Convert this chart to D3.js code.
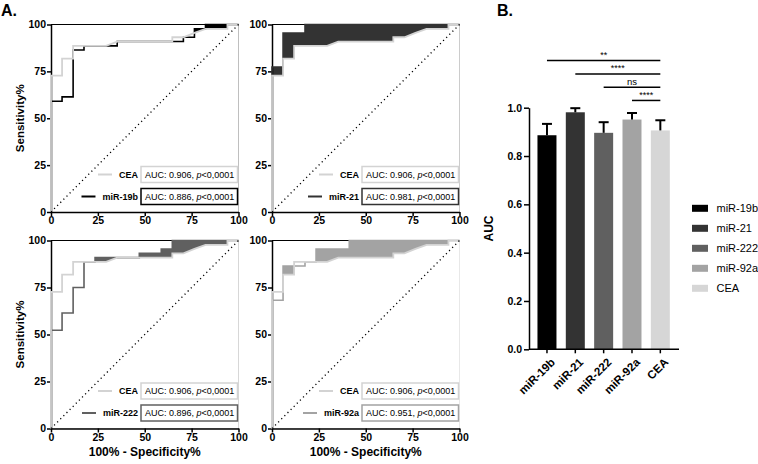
<!DOCTYPE html>
<html>
<head>
<meta charset="utf-8">
<script src="https://cdn.jsdelivr.net/npm/d3@7"></script>
<style>
  html, body { margin: 0; padding: 0; background: #fff; }
  svg { display: block; font-family: "Liberation Sans", Arial, sans-serif; }
</style>
</head>
<body>
<svg id="chart" width="758" height="464"></svg>
<script>
// ---------------- DATA ----------------
// ROC curves: [100% - Specificity%, Sensitivity%]
const rocCEA = [[0,0],[0,72.7],[5.9,72.7],[5.9,81.8],[11.8,81.8],[11.8,88.6],[29.4,88.6],[35.3,90.9],[64.7,90.9],[64.7,93.2],[70.6,93.2],[76.5,95.5],[82.4,97.7],[94.1,97.7],[94.1,100],[100,100]];
const rocMiR19b = [[0,0],[0,59.1],[5.9,59.1],[5.9,61.4],[11.8,61.4],[11.8,86.4],[17.6,86.4],[17.6,88.6],[35.3,88.6],[35.3,90.9],[70.6,90.9],[70.6,93.2],[76.5,93.2],[76.5,97.7],[82.4,97.7],[82.4,100],[100,100]];
const rocMiR21 = [[0,0],[0,77.3],[5.9,77.3],[5.9,95.5],[17.6,95.5],[17.6,100],[100,100]];
const rocMiR222 = [[0,0],[0,52.3],[5.9,52.3],[5.9,61.4],[11.8,61.4],[11.8,75],[17.6,75],[17.6,88.6],[23.5,88.6],[23.5,90.9],[47.1,90.9],[47.1,93.2],[58.8,93.2],[58.8,95.5],[64.7,95.5],[64.7,100],[100,100]];
const rocMiR92a = [[0,0],[0,68.2],[5.9,68.2],[5.9,86.4],[17.6,86.4],[17.6,88.6],[23.5,88.6],[23.5,95.5],[41.2,95.5],[41.2,100],[100,100]];
const rocNames = ["miR-19b", "miR-21", "miR-222", "miR-92a"];
const rocCurves = [rocMiR19b, rocMiR21, rocMiR222, rocMiR92a];
const rocAUC = ["0.886", "0.981", "0.896", "0.951"];
const ceaAUC = "0.906";
const rocTicks = [0, 25, 50, 75, 100];

const barCategories = ["miR-19b", "miR-21", "miR-222", "miR-92a", "CEA"];
const barValues = [0.886, 0.981, 0.896, 0.951, 0.906];
const barErrUpper = [0.933, 0.998, 0.940, 0.978, 0.948];
const barTicks = [0, 0.2, 0.4, 0.6, 0.8, 1.0];
const sigFrom = [0, 1, 2, 3];
const sigTo = [4, 4, 4, 4];
const sigLabels = ["**", "****", "ns", "****"];
const sigLevels = [1.195, 1.140, 1.085, 1.030];

// ---------------- STYLE ----------------
const seriesColors = ["#000000", "#333333", "#606060", "#a3a3a3"];
const ceaColor = "#d3d3d3";
const barColors = ["#000000", "#333333", "#606060", "#a3a3a3", "#d6d6d6"];

const svg = d3.select("#chart");

// panel labels
svg.append("text").attr("x", 1).attr("y", 16).attr("font-size", 16).attr("font-weight", "bold").text("A.");
svg.append("text").attr("x", 497).attr("y", 16).attr("font-size", 16).attr("font-weight", "bold").text("B.");

// ---------------- ROC PANELS ----------------
const panels = [
  {x: 51,    y: 24.5,  w: 187.5, h: 187.5, yLabel: true,  xLabel: false},
  {x: 272,   y: 24.5,  w: 187.5, h: 187.5, yLabel: false, xLabel: false},
  {x: 51,    y: 240.5, w: 187.5, h: 188,   yLabel: true,  xLabel: true},
  {x: 272,   y: 240.5, w: 187.5, h: 188,   yLabel: false, xLabel: true}
];

panels.forEach((p, i) => {
  const g = svg.append("g");
  const x = d3.scaleLinear().domain([0, 100]).range([p.x, p.x + p.w]);
  const y = d3.scaleLinear().domain([0, 100]).range([p.y + p.h, p.y]);
  const curve = rocCurves[i];
  const col = seriesColors[i];

  const area = d3.area().x(d => x(d[0])).y0(y(0)).y1(d => y(d[1]));
  const line = d3.line().x(d => x(d[0])).y(d => y(d[1]));

  // fill under miR curve, then white under CEA curve
  g.append("path").datum(curve).attr("d", area).attr("fill", col);
  g.append("path").datum(rocCEA).attr("d", area).attr("fill", "#fff");

  // top frame line
  g.append("line").attr("x1", x(0)).attr("x2", x(100)).attr("y1", y(100)).attr("y2", y(100))
    .attr("stroke", "#000").attr("stroke-width", 1.2);

  // axes
  const yAxis = d3.axisLeft(y).tickValues(rocTicks).tickSize(4).tickSizeOuter(0);
  const xAxis = d3.axisBottom(x).tickValues(rocTicks).tickSize(4).tickSizeOuter(0);
  const ya = g.append("g").attr("transform", `translate(${x(0)},0)`).call(yAxis);
  const xa = g.append("g").attr("transform", `translate(0,${y(0)})`).call(xAxis);
  [ya, xa].forEach(a => {
    a.select(".domain").attr("stroke", "#000").attr("stroke-width", 1.5);
    a.selectAll(".tick line").attr("stroke", "#000").attr("stroke-width", 1.5);
    a.selectAll(".tick text").attr("font-size", 10.5).attr("font-weight", "bold")
      .attr("font-family", "'Liberation Sans', Arial, sans-serif").attr("fill", "#000");
  });
  ya.selectAll(".tick text").attr("x", -5);
  xa.selectAll(".tick text").attr("y", 5);

  // curves
  g.append("path").datum(curve).attr("d", line).attr("fill", "none")
    .attr("stroke", col).attr("stroke-width", 1.6);
  g.append("path").datum(rocCEA).attr("d", line).attr("fill", "none")
    .attr("stroke", ceaColor).attr("stroke-width", 1.8);

  // diagonal reference
  g.append("line").attr("x1", x(0)).attr("y1", y(0)).attr("x2", x(100)).attr("y2", y(100))
    .attr("stroke", "#000").attr("stroke-width", 1.3).attr("stroke-dasharray", "1.2,3.2");

  // legend boxes
  const boxW = 96.5, boxH = 16;
  const bx = x(100) - boxW - 1;
  const rows = [
    {name: "CEA", auc: ceaAUC, color: ceaColor, by: y(0) - 45.5},
    {name: rocNames[i], auc: rocAUC[i], color: col, by: y(0) - 23.5}
  ];
  rows.forEach(r => {
    g.append("rect").attr("x", bx).attr("y", r.by).attr("width", boxW).attr("height", boxH)
      .attr("fill", "#fff").attr("stroke", r.color).attr("stroke-width", 1.5);
    const t = g.append("text").attr("x", bx + 4).attr("y", r.by + boxH / 2 + 3.3)
      .attr("font-size", 9).attr("fill", "#000");
    t.append("tspan").text(`AUC: ${r.auc}, `);
    t.append("tspan").attr("font-style", "italic").text("p");
    t.append("tspan").text("<0,0001");
    const lab = g.append("text").attr("x", bx - 3).attr("y", r.by + boxH / 2 + 3.3)
      .attr("text-anchor", "end").attr("font-size", 9).attr("font-weight", "bold").text(r.name);
    const lw = lab.node().getComputedTextLength();
    const lx2 = bx - 3 - lw - 7;
    g.append("line").attr("x1", lx2 - 14).attr("x2", lx2).attr("y1", r.by + boxH / 2).attr("y2", r.by + boxH / 2)
      .attr("stroke", r.color).attr("stroke-width", 2);
  });

  if (p.yLabel) {
    svg.append("text").attr("transform", `translate(${24},${p.y + p.h / 2}) rotate(-90)`)
      .attr("text-anchor", "middle").attr("font-size", 11.5).attr("font-weight", "bold").text("Sensitivity%");
  }
  if (p.xLabel) {
    svg.append("text").attr("x", p.x + p.w / 2).attr("y", 456)
      .attr("text-anchor", "middle").attr("font-size", 12).attr("font-weight", "bold").text("100% - Specificity%");
  }
});

// ---------------- BAR CHART ----------------
const bg = svg.append("g");
const bx = d3.scalePoint().domain(barCategories).range([532.8, 674.5]).padding(0.5);
const by = d3.scaleLinear().domain([0, 1]).range([349.3, 107.7]);
const barW = 19;

bg.selectAll("rect.bar").data(barCategories).join("rect").attr("class", "bar")
  .attr("x", d => bx(d) - barW / 2).attr("width", barW)
  .attr("y", (d, i) => by(barValues[i])).attr("height", (d, i) => by(0) - by(barValues[i]))
  .attr("fill", (d, i) => barColors[i]);

// error bars (upper only)
barCategories.forEach((c, i) => {
  bg.append("line").attr("x1", bx(c)).attr("x2", bx(c)).attr("y1", by(barValues[i])).attr("y2", by(barErrUpper[i]))
    .attr("stroke", "#000").attr("stroke-width", 2);
  bg.append("line").attr("x1", bx(c) - 5).attr("x2", bx(c) + 5).attr("y1", by(barErrUpper[i])).attr("y2", by(barErrUpper[i]))
    .attr("stroke", "#000").attr("stroke-width", 2);
});

// axes
const byAxis = d3.axisLeft(by).tickValues(barTicks).tickFormat(d3.format(".1f")).tickSize(5).tickSizeOuter(0);
const bya = bg.append("g").attr("transform", "translate(529,0)").call(byAxis);
bya.select(".domain").attr("stroke", "#000").attr("stroke-width", 1.5);
bya.selectAll(".tick line").attr("stroke", "#000").attr("stroke-width", 1.5);
bya.selectAll(".tick text").attr("font-size", 10.5).attr("font-weight", "bold")
  .attr("font-family", "'Liberation Sans', Arial, sans-serif").attr("fill", "#000").attr("x", -7);

bg.append("line").attr("x1", 529).attr("x2", 679).attr("y1", by(0)).attr("y2", by(0))
  .attr("stroke", "#000").attr("stroke-width", 1.5);
barCategories.forEach(c => {
  bg.append("line").attr("x1", bx(c)).attr("x2", bx(c)).attr("y1", by(0)).attr("y2", by(0) + 4)
    .attr("stroke", "#000").attr("stroke-width", 1.5);
  bg.append("text").attr("transform", `translate(${bx(c) + 3},${by(0) + 8}) rotate(-45)`)
    .attr("text-anchor", "end").attr("dy", "0.7em").attr("font-size", 11.5).attr("font-weight", "bold").text(c);
});

bg.append("text").attr("transform", `translate(493,${by(0.5)}) rotate(-90)`)
  .attr("text-anchor", "middle").attr("font-size", 12).attr("font-weight", "bold").text("AUC");

// significance brackets
sigLabels.forEach((s, i) => {
  const x1 = bx(barCategories[sigFrom[i]]), x2 = bx(barCategories[sigTo[i]]);
  const yy = by(sigLevels[i]);
  bg.append("line").attr("x1", x1).attr("x2", x2).attr("y1", yy).attr("y2", yy)
    .attr("stroke", "#000").attr("stroke-width", 1.5);
  bg.append("text").attr("x", (x1 + x2) / 2).attr("y", yy - 2.5).attr("text-anchor", "middle")
    .attr("font-size", s === "ns" ? 9.5 : 9).text(s);
});

// legend
barCategories.forEach((c, i) => {
  const ly = 208.3 + i * 20;
  bg.append("rect").attr("x", 692).attr("y", ly - 3.5).attr("width", 16).attr("height", 7).attr("fill", barColors[i]);
  bg.append("text").attr("x", 716.5).attr("y", ly + 4).attr("font-size", 11).text(c);
});
</script>
</body>
</html>
